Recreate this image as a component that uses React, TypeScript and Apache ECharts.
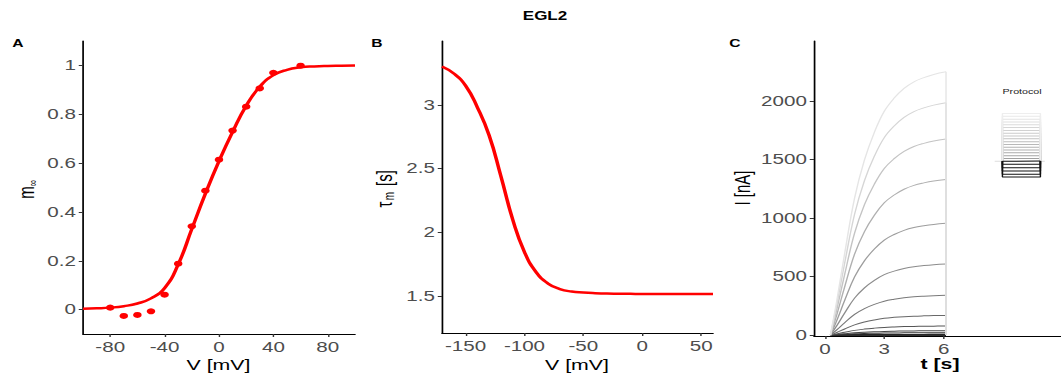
import React, { useEffect, useRef } from "react";
import * as echarts from "echarts";

// ---------- layout constants (reference image is horizontally stretched) ----------
const W0 = 747;
const H = 374;
const S = 1061 / W0;
const sx = (v: number) => v / S;
const FONT = "'Liberation Sans', Arial, sans-serif";

// ---------- Panel A : steady-state activation ----------
const mVoltage = [-80, -70, -60, -50, -40, -30, -20, -10, 0, 10, 20, 30, 40, 60];
const mMeasured = [0.008, -0.026, -0.022, -0.007, 0.061, 0.188, 0.341, 0.487, 0.614, 0.733, 0.831, 0.906, 0.97, 0.999];
const mFitVoltage = [-100, -90, -80, -70, -60, -50, -40, -30, -20, -10, 0, 10, 20, 30, 40, 50, 60, 70, 80, 90, 100];
const mFitValues = [0.003, 0.005, 0.008, 0.014, 0.025, 0.046, 0.088, 0.185, 0.33, 0.475, 0.608, 0.728, 0.835, 0.913, 0.96, 0.982, 0.992, 0.996, 0.998, 0.999, 1.0];
const aXTicks = [-80, -40, 0, 40, 80];
const aYTicks = [0, 0.2, 0.4, 0.6, 0.8, 1];

// ---------- Panel B : time constant ----------
const tauVoltage = [-170, -160, -150, -140, -130, -120, -110, -100, -90, -80, -70, -60, -50, -40, -30, -20, -10, 0, 10, 20, 30, 40, 50, 60];
const tauValues = [3.3, 3.245, 3.15, 2.98, 2.76, 2.44, 2.1, 1.845, 1.685, 1.598, 1.555, 1.535, 1.527, 1.522, 1.519, 1.518, 1.517, 1.516, 1.516, 1.516, 1.516, 1.516, 1.516, 1.516];
const bXTicks = [-150, -100, -50, 0, 50];
const bYTicks = [1.5, 2, 2.5, 3];

// ---------- Panel C : simulated currents ----------
const traceTime = [0.28, 0.6, 1.0, 1.5, 2.0, 2.5, 3.0, 3.5, 4.0, 4.5, 5.0, 5.5, 6.12];
const traceShape = [0, 0.13, 0.31, 0.52, 0.665, 0.77, 0.85, 0.9, 0.937, 0.962, 0.978, 0.99, 1.0];
const traceAmplitude = [0, 0, 0, 6, 20, 37, 77, 168, 340, 607, 955, 1330, 1675, 1985, 2250];
const traceColors = ["#000000", "#0d0d0d", "#1a1a1a", "#262626", "#333333", "#444444", "#555555", "#686868", "#7a7a7a", "#8c8c8c", "#9e9e9e", "#b0b0b0", "#c4c4c4", "#d6d6d6", "#e5e5e5"];
const cXTicks = [0, 3, 6];
const cYTicks = [0, 500, 1000, 1500, 2000];

// protocol inset (drawn in panel C data space)
const protocolHold = 1485;
const protocolLevels = [1350, 1374, 1402, 1430, 1459, 1487, 1509, 1533, 1557, 1581, 1605, 1629, 1653, 1677, 1701, 1725, 1749, 1773, 1797, 1821, 1845, 1869, 1893];
const protocolStepTimes = [8.97, 10.89];
const protocolBaselineTimes = [8.58, 11.11];

const zip = (xs: number[], ys: number[]) => xs.map((x, i) => [x, ys[i]]);

function grey(t: number) {
  const v = Math.round(0xa0 + (0xee - 0xa0) * t);
  const h = v.toString(16).padStart(2, "0");
  return `#${h}${h}${h}`;
}

function axis(gridIndex: number, min: number, max: number, ticks: number[], isX: boolean) {
  return {
    type: "value",
    gridIndex,
    min,
    max,
    axisLine: { show: true, onZero: false, lineStyle: { color: "#000", width: 1.2 } },
    axisTick: { show: true, length: 3, customValues: ticks, lineStyle: { color: "#333", width: 1 } },
    axisLabel: {
      show: true,
      customValues: ticks,
      color: "#4d4d4d",
      fontSize: 14.5,
      fontFamily: FONT,
      margin: isX ? 6 : 5,
      formatter: (v: number) => String(v),
    },
    splitLine: { show: false },
  };
}

function txt(x: number, y: number, text: string, size: number, opts: any = {}) {
  return {
    type: "text",
    x: sx(x),
    y,
    rotation: opts.rot ? Math.PI / 2 : 0,
    silent: true,
    style: {
      text,
      fontSize: size,
      fontFamily: FONT,
      fontWeight: opts.bold ? "bold" : "normal",
      fill: opts.color || "#000",
      align: "center",
      verticalAlign: "middle",
      textAlign: "center",
      textVerticalAlign: "middle",
    },
  };
}

function buildOption() {
  const series: any[] = [];

  // Panel A
  series.push({
    type: "line",
    xAxisIndex: 0,
    yAxisIndex: 0,
    data: zip(mFitVoltage, mFitValues),
    smooth: 0.5,
    showSymbol: false,
    lineStyle: { color: "#ff0000", width: 2.5 },
    z: 2,
  });
  series.push({
    type: "scatter",
    xAxisIndex: 0,
    yAxisIndex: 0,
    data: zip(mVoltage, mMeasured),
    symbolSize: 6,
    itemStyle: { color: "#ff0000", opacity: 1 },
    z: 3,
  });

  // Panel B
  series.push({
    type: "line",
    xAxisIndex: 1,
    yAxisIndex: 1,
    data: zip(tauVoltage, tauValues),
    smooth: 0.5,
    showSymbol: false,
    lineStyle: { color: "#ff0000", width: 2.5 },
  });

  // Panel C traces
  traceAmplitude.forEach((amp, k) => {
    series.push({
      type: "line",
      xAxisIndex: 2,
      yAxisIndex: 2,
      data: traceTime.map((t, i) => [t, amp * traceShape[i]]),
      smooth: 0.4,
      showSymbol: false,
      lineStyle: { color: traceColors[k], width: 1 },
    });
  });
  traceAmplitude.forEach((amp, k) => {
    const tEnd = traceTime[traceTime.length - 1];
    series.push({
      type: "line",
      xAxisIndex: 2,
      yAxisIndex: 2,
      data: [[tEnd, amp], [tEnd, 0]],
      showSymbol: false,
      lineStyle: { color: traceColors[k], width: 1 },
    });
  });

  // Protocol inset
  series.push({
    type: "line",
    xAxisIndex: 2,
    yAxisIndex: 2,
    data: protocolBaselineTimes.map((t) => [t, protocolHold]),
    showSymbol: false,
    lineStyle: { color: "#dddddd", width: 1 },
  });
  const above = protocolLevels.filter((l) => l > protocolHold + 5);
  const below = protocolLevels.filter((l) => l <= protocolHold + 5);
  const [t0, t1] = protocolStepTimes;
  above.forEach((L, i) => {
    series.push({
      type: "line",
      xAxisIndex: 2,
      yAxisIndex: 2,
      data: [[t0, protocolHold], [t0, L], [t1, L], [t1, protocolHold]],
      showSymbol: false,
      lineStyle: { color: grey(above.length > 1 ? i / (above.length - 1) : 0), width: 1 },
    });
  });
  below.forEach((L) => {
    series.push({
      type: "line",
      xAxisIndex: 2,
      yAxisIndex: 2,
      data: [[t0, protocolHold], [t0, L], [t1, L], [t1, protocolHold]],
      showSymbol: false,
      lineStyle: { color: "#111111", width: 1 },
    });
  });

  return {
    animation: false,
    backgroundColor: "#ffffff",
    grid: [
      { left: sx(83), top: 41, width: sx(272), height: 293, outerBoundsMode: "none", containLabel: false },
      { left: sx(442), top: 41, width: sx(271), height: 292, outerBoundsMode: "none", containLabel: false },
      { left: sx(814), top: 41, width: sx(247), height: 295, outerBoundsMode: "none", containLabel: false },
    ],
    xAxis: [
      axis(0, -100, 100, aXTicks, true),
      axis(1, -170, 60, bXTicks, true),
      axis(2, -0.55, 11.93, cXTicks, true),
    ],
    yAxis: [
      axis(0, -0.1, 1.1, aYTicks, false),
      axis(1, 1.21, 3.5, bYTicks, false),
      axis(2, -8, 2513, cYTicks, false),
    ],
    series,
    graphic: {
      elements: [
        txt(545, 16, "EGL2", 12, { bold: true }),
        txt(18, 43.5, "A", 11, { bold: true }),
        txt(377, 43, "B", 11, { bold: true }),
        txt(735, 43.5, "C", 11, { bold: true }),
        txt(218.5, 365, "V [mV]", 15),
        txt(577, 365, "V [mV]", 15),
        txt(940, 364, "t [s]", 15, { bold: true }),
        txt(26, 192.5, "m", 15, { rot: true }),
        txt(32, 183, "∞", 9, { rot: true }),
        txt(384, 204.5, "τ", 15, { rot: true }),
        txt(389, 196, "m", 10, { rot: true }),
        txt(384, 178, "[s]", 15, { rot: true }),
        txt(742, 188, "I [nA]", 15, { rot: true }),
        txt(1022, 92, "Protocol", 7.5, { color: "#222" }),
      ],
    },
  };
}

export default function App() {
  const ref = useRef<HTMLDivElement>(null);
  useEffect(() => {
    if (!ref.current) return;
    const chart = echarts.init(ref.current, null, { renderer: "svg" });
    chart.setOption(buildOption() as any);
    return () => chart.dispose();
  }, []);
  return (
    <div
      ref={ref}
      style={{
        position: "absolute",
        left: 0,
        top: 0,
        width: W0,
        height: H,
        transform: `scaleX(${S})`,
        transformOrigin: "0 0",
        background: "#fff",
      }}
    />
  );
}
